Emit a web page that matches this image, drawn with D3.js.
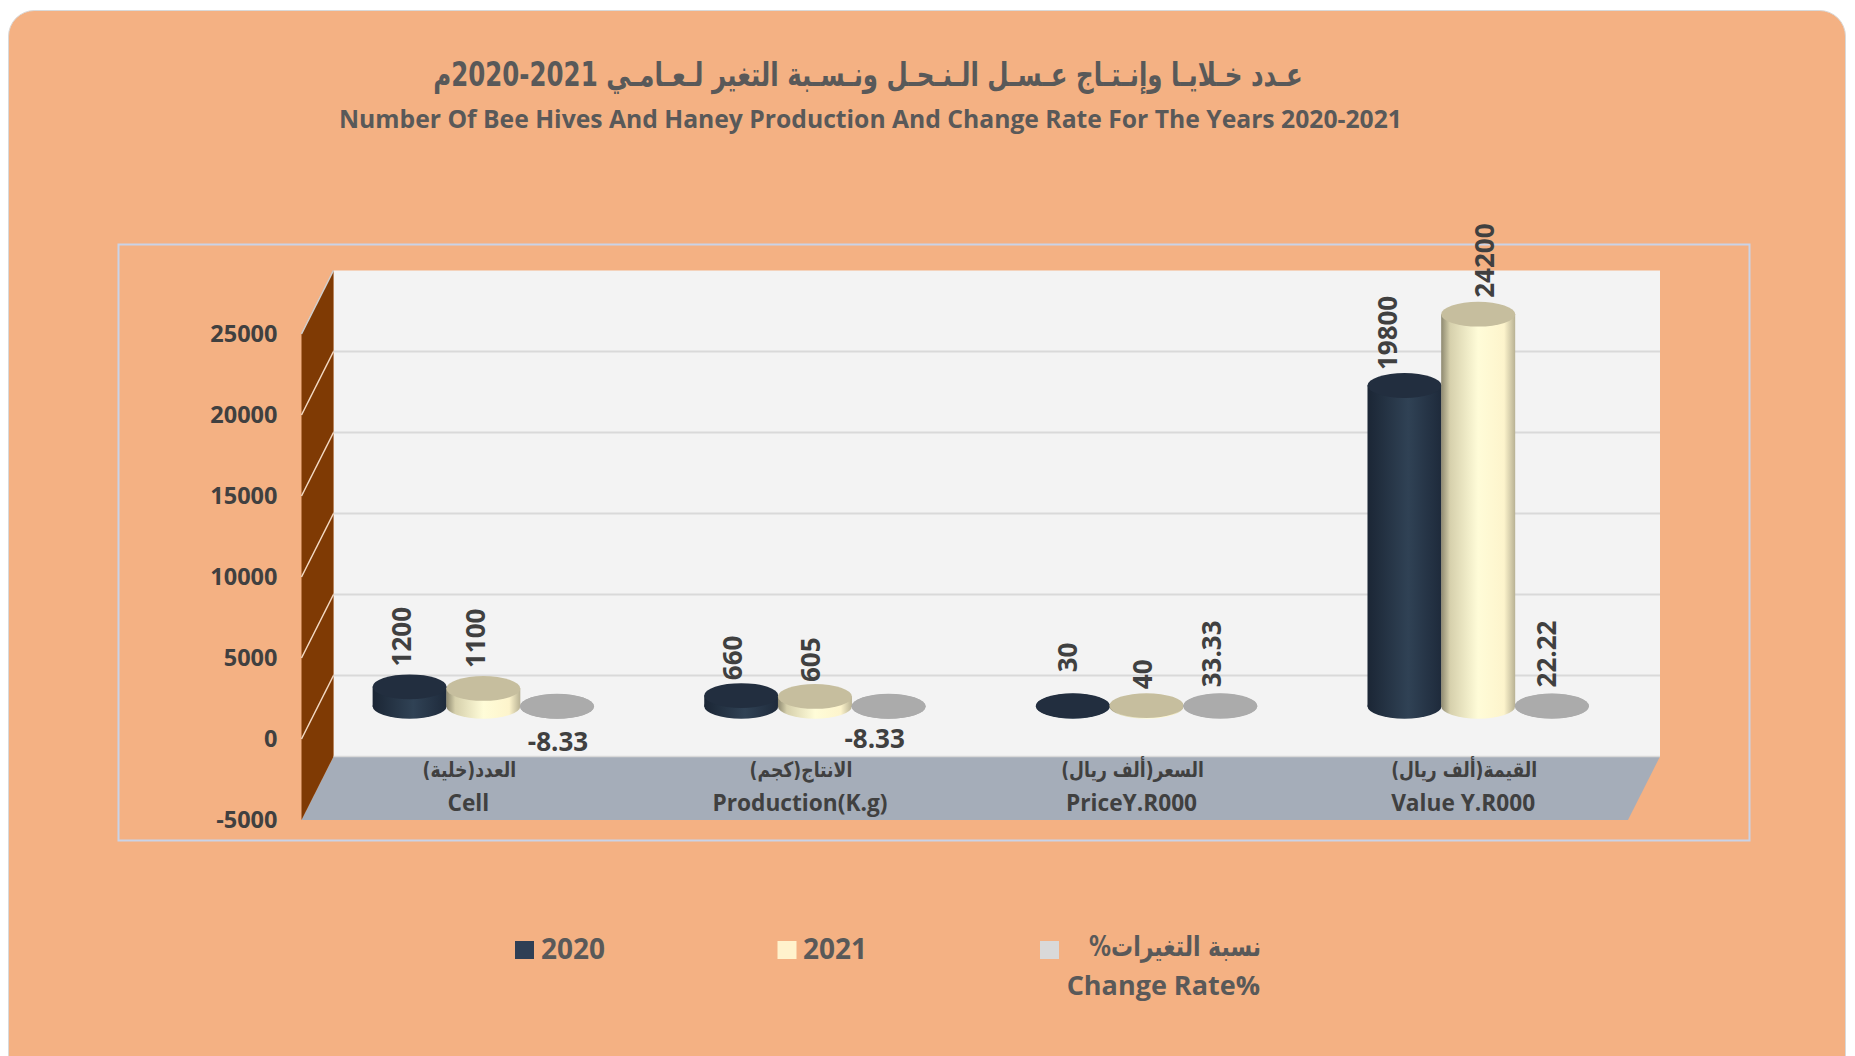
<!DOCTYPE html>
<html>
<head>
<meta charset="utf-8">
<script src="https://cdnjs.cloudflare.com/ajax/libs/d3/7.8.5/d3.min.js"></script>
<style>
  html, body { margin: 0; padding: 0; background: #fff; }
  svg { display: block; }
  text { font-family: "Open Sans", sans-serif; font-weight: 700; fill: #595959; }
  .ar { font-family: "DejaVu Sans", sans-serif; direction: rtl; }
</style>
</head>
<body>
<svg id="chart" width="1855" height="1056"></svg>
<script>
// data
var categories = ["Cell", "Production(K.g)", "PriceY.R000", "Value Y.R000"];
var categoriesAr = ["العدد(خلية)", "الانتاج(كجم)", "السعر(ألف ريال)", "القيمة(ألف ريال)"];
var seriesNames = ["2020", "2021", "Change Rate%"];
var values2020 = [1200, 660, 30, 19800];
var values2021 = [1100, 605, 40, 24200];
var valuesChange = [-8.33, -8.33, 33.33, 22.22];
var yTicks = [-5000, 0, 5000, 10000, 15000, 20000, 25000];

var titleAr = "عـدد خـلايـا وإنـتـاج عـسـل الـنـحـل ونـسـبة التغير لـعـامـي 2021-2020م";
var titleEn = "Number Of Bee Hives And Haney Production And Change Rate For The Years 2020-2021";
var legendAr = "نسبة التغيرات%";

var seriesValues = [values2020, values2021, valuesChange];

// the 3d box: front edge of the floor, and how far the back wall is shifted from it
var front = { left: 301.5, right: 1628, bottom: 820 };
var depth = { x: 32, y: -63.5 };
var rx = 37, ry = 12.4;

var svg = d3.select("#chart");

svg.append("rect")
  .attr("x", 8.5).attr("y", 10.5)
  .attr("width", 1837).attr("height", 1100)
  .attr("rx", 26)
  .attr("fill", "#F4B183")
  .attr("stroke", "#D9D9D9");

// DejaVu arabic is much wider than the original face, so squeeze it to the measured width
function arabicText(x, yPos, size, targetWidth, anchor) {
  var t = svg.append("text").attr("class", "ar")
    .attr("text-anchor", anchor)
    .attr("font-size", size);
  return { node: t, x: x, y: yPos, w: targetWidth };
}
function fitArabic(a) {
  var sx = a.w / a.node.node().getComputedTextLength();
  a.node.attr("transform", "translate(" + a.x + "," + a.y + ") scale(" + sx + ",1)");
}

var titleLabel = arabicText(868, 86, 33, 870, "middle");
titleLabel.node.text(titleAr);
fitArabic(titleLabel);

svg.append("text")
  .attr("x", 870.5).attr("y", 128)
  .attr("text-anchor", "middle")
  .attr("font-size", 24.7)
  .text(titleEn);

// chart frame
svg.append("rect")
  .attr("x", 118.5).attr("y", 244.5)
  .attr("width", 1631).attr("height", 596)
  .attr("fill", "none")
  .attr("stroke", "#C9D3E8")
  .attr("stroke-width", 2);

var y = d3.scaleLinear().domain([-5000, 25000]).range([front.bottom, front.bottom - 486]);

var xFront = d3.scaleBand().domain(categories).range([front.left, front.right]);
var xMid = d3.scaleBand().domain(categories)
  .range([front.left + depth.x / 2, front.right + depth.x / 2]);
var xInner = d3.scaleBand().domain(seriesNames)
  .range([xMid.bandwidth() / 6, xMid.bandwidth() * 5 / 6]);

var gradDark = [["0%", "#1B2635"], ["55%", "#304255"], ["100%", "#1E2A3B"]];
var gradCream = [["0%", "#8E8970"], ["12%", "#D6D0AC"], ["50%", "#FFFCD8"], ["85%", "#FDF4CC"], ["100%", "#B8B193"]];
var gradGray = [["0%", "#ABABAB"], ["100%", "#ABABAB"]];
var sideGrads = [gradDark, gradCream, gradGray];
var topColors = ["#222E3F", "#C6BE9E", "#ABABAB"];
var legendColors = ["#2F3F55", "#FFF2CC", "#D9D9D9"];

var defs = svg.append("defs");
sideGrads.forEach(function(stops, i) {
  var g = defs.append("linearGradient").attr("id", "cyl-" + i);
  stops.forEach(function(s) {
    g.append("stop").attr("offset", s[0]).attr("stop-color", s[1]);
  });
});

// back wall
svg.append("rect")
  .attr("x", front.left + depth.x)
  .attr("y", y(25000) + depth.y)
  .attr("width", front.right - front.left)
  .attr("height", y(-5000) - y(25000))
  .attr("fill", "#F3F3F3");

// floor
var floorPts = [
  [front.left, front.bottom],
  [front.left + depth.x, front.bottom + depth.y],
  [front.right + depth.x, front.bottom + depth.y],
  [front.right, front.bottom]
];
svg.append("polygon")
  .attr("points", floorPts.join(" "))
  .attr("fill", "#A5ADB9");

// side wall
var sidePts = [
  [front.left, y(25000)],
  [front.left + depth.x, y(25000) + depth.y],
  [front.left + depth.x, y(-5000) + depth.y],
  [front.left, y(-5000)]
];
svg.append("polygon")
  .attr("points", sidePts.join(" "))
  .attr("fill", "#7F3A04");

// pale edge along the top of the side wall and the back wall
svg.append("line")
  .attr("x1", front.left).attr("y1", y(25000))
  .attr("x2", front.left + depth.x).attr("y2", y(25000) + depth.y)
  .attr("stroke", "#CFCFCF").attr("stroke-width", 1.5);
svg.append("line")
  .attr("x1", front.left + depth.x).attr("y1", y(-5000) + depth.y)
  .attr("x2", front.right + depth.x).attr("y2", y(-5000) + depth.y)
  .attr("stroke", "#D9D9D9").attr("stroke-width", 1.5);

// gridlines on the back wall and carried down the side wall
var gridTicks = yTicks.slice(1, -1);
svg.selectAll(".grid-back").data(gridTicks).enter().append("line")
  .attr("class", "grid-back")
  .attr("x1", front.left + depth.x)
  .attr("x2", front.right + depth.x)
  .attr("y1", function(d) { return y(d) + depth.y; })
  .attr("y2", function(d) { return y(d) + depth.y; })
  .attr("stroke", "#D9D9D9")
  .attr("stroke-width", 2);

svg.selectAll(".grid-side").data(gridTicks).enter().append("line")
  .attr("class", "grid-side")
  .attr("x1", front.left)
  .attr("x2", front.left + depth.x)
  .attr("y1", function(d) { return y(d); })
  .attr("y2", function(d) { return y(d) + depth.y; })
  .attr("stroke", "#F3D9C3")
  .attr("stroke-width", 1.5);

// y axis, no domain or tick lines
var yAxis = svg.append("g")
  .attr("transform", "translate(" + (front.left - 16) + ",0)")
  .call(d3.axisLeft(y).tickValues(yTicks).tickSize(0).tickPadding(8).tickFormat(String));
yAxis.select(".domain").remove();
yAxis.selectAll("text")
  .attr("font-size", 23.5)
  .style("font-family", '"Open Sans", sans-serif')
  .style("fill", "#404040");

// cylinders, series by series so the later ones sit over the earlier ones
var midShift = depth.y / 2 - 1;
var baseY = y(0) + midShift;
seriesNames.forEach(function(name, s) {
  var g = svg.append("g").attr("class", "series-" + s);
  categories.forEach(function(cat, c) {
    var v = seriesValues[s][c];
    var cx = xMid(cat) + xInner(name) + xInner.bandwidth() / 2;
    var topY = y(v) + midShift;
    g.append("ellipse")
      .attr("cx", cx).attr("cy", baseY).attr("rx", rx).attr("ry", ry)
      .attr("fill", "url(#cyl-" + s + ")");
    g.append("rect")
      .attr("x", cx - rx).attr("y", topY)
      .attr("width", rx * 2).attr("height", Math.max(0, baseY - topY))
      .attr("fill", "url(#cyl-" + s + ")");
    g.append("ellipse")
      .attr("cx", cx).attr("cy", topY).attr("rx", rx).attr("ry", ry)
      .attr("fill", topColors[s]);
  });
});

// value labels: excel dragged some of them around, so each has its own nudge
var labelNudge = [
  [[-8, -8], [-9, -3], [-5, -21], [-17, -3]],
  [[-8, -8], [-4, -2], [-4, -4], [6, -4]],
  [[1, 0], [-14, -2.5], [-9, -6], [-5, -6]]
];
seriesNames.forEach(function(name, s) {
  categories.forEach(function(cat, c) {
    var v = seriesValues[s][c];
    var cx = xMid(cat) + xInner(name) + xInner.bandwidth() / 2;
    var topY = y(v) + midShift - ry;
    var n = labelNudge[s][c];
    if (v < 0) {
      svg.append("text")
        .attr("x", cx + n[0]).attr("y", baseY + ry + 32 + n[1])
        .attr("text-anchor", "middle")
        .attr("font-size", 26)
        .style("fill", "#404040")
        .text(v);
    } else {
      svg.append("text")
        .attr("transform", "translate(" + (cx + n[0]) + "," + (topY + n[1]) + ") rotate(-90)")
        .attr("dy", "0.36em")
        .attr("font-size", 26)
        .style("fill", "#404040")
        .text(v);
    }
  });
});

// category labels on the floor
categoriesAr.forEach(function(d, i) {
  svg.append("text").attr("class", "ar")
    .attr("transform", "translate(" + (xFront(categories[i]) + xFront.bandwidth() / 2 + 2) + ",777) scale(0.82,1)")
    .attr("text-anchor", "middle")
    .attr("font-size", 21)
    .style("fill", "#404040")
    .text(d);
});

svg.selectAll(".cat-en").data(categories).enter().append("text")
  .attr("x", function(d) { return xFront(d) + xFront.bandwidth() / 2 + 1; })
  .attr("y", 811)
  .attr("text-anchor", "middle")
  .attr("font-size", 22.7)
  .style("fill", "#404040")
  .text(function(d) { return d; });

// legend
var legendX = d3.scalePoint().domain(seriesNames).range([515, 1040]);
svg.selectAll(".swatch").data(seriesNames).enter().append("rect")
  .attr("class", "swatch")
  .attr("x", function(d) { return legendX(d); })
  .attr("y", 941)
  .attr("width", 19).attr("height", 18)
  .attr("fill", function(d, i) { return legendColors[i]; });

svg.append("text").attr("x", 541).attr("y", 959).attr("font-size", 28).text(seriesNames[0]);
svg.append("text").attr("x", 803).attr("y", 959).attr("font-size", 28).text(seriesNames[1]);
var legendLabel = arabicText(1261, 956, 28, 172, "start");
legendLabel.node.text(legendAr);
fitArabic(legendLabel);
svg.append("text")
  .attr("x", 1260).attr("y", 995)
  .attr("text-anchor", "end")
  .attr("font-size", 27)
  .text("Change Rate%");
</script>
</body>
</html>
